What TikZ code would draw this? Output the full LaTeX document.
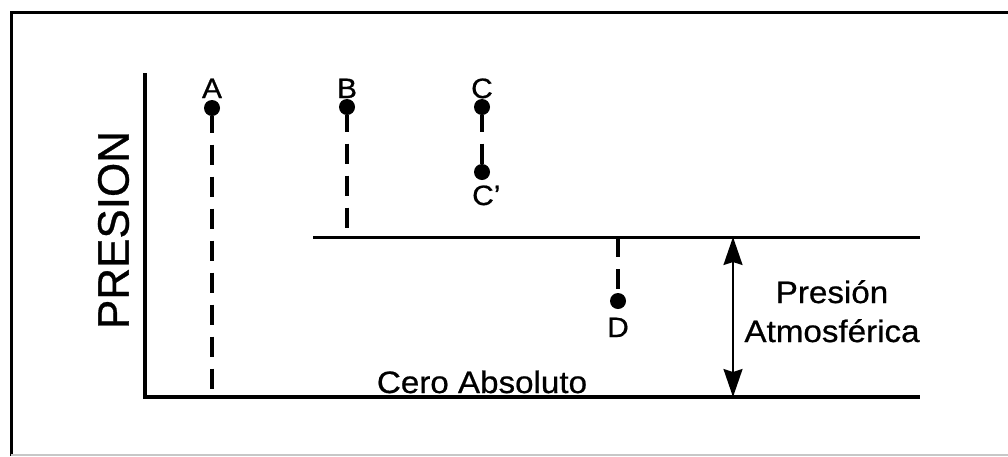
\documentclass[tikz,border=0pt]{standalone}
\usepackage{fontspec}
\setmainfont{Liberation Sans}[FakeStretch=1.07,FakeBold=0.7]
\newfontfamily\axisfont{Liberation Sans}[FakeBold=0.7]
\usetikzlibrary{arrows.meta}

\begin{document}
\begin{tikzpicture}[x=1pt,y=-1pt,
  frameline/.style={line width=3pt,line join=miter},
  faintline/.style={line width=1.2pt,draw=black!22},
  axisline/.style={line width=4.5pt,line join=miter},
  levelline/.style={line width=3pt},
  dropline/.style={line width=3.8pt,dash pattern=on 20pt off 12pt},
  pt/.style={circle,fill=black,inner sep=0pt,minimum size=16pt},
  ptlabel/.style={inner sep=0pt,font=\fontsize{28}{32}\selectfont},
  bigtext/.style={inner sep=0pt,font=\fontsize{31}{36}\selectfont},
  axistext/.style={inner sep=0pt,font=\axisfont\fontsize{44}{50}\selectfont},
  span/.style={line width=2pt,{Stealth[length=28pt,width=19pt,inset=3pt]}-{Stealth[length=28pt,width=19pt,inset=3pt]}}
]
\useasboundingbox (0,0) rectangle (1008,456);

% outer frame
\draw[frameline] (1008,12) -| (11,456);
\draw[faintline] (11,455) -- (1008,455);

% axes and reference levels
\coordinate (axTop) at (145,73);
\coordinate (zeroR) at (920,397);
\coordinate (atmL) at (313,237);
\coordinate (atmR) at (920,237);
\draw[axisline] (axTop) |- (zeroR);
\draw[levelline] (atmL) -- (atmR);

% pressure points
\node[pt] (A) at (212,108) {};
\node[pt] (B) at (347,107) {};
\node[pt] (C) at (482,107) {};
\node[pt] (Cp) at (482,172) {};
\node[pt] (D) at (618,301) {};

% drops to the reference levels
\draw[dropline,dash phase=3.5pt] (A.south) -- (A |- zeroR);
\draw[dropline,dash phase=3.5pt] (B.south) -- (B |- atmL);
\draw[dropline,dash phase=3.5pt] (C.south) -- (Cp.north);
\draw[dropline] (D |- atmL) -- (D.north);

% atmospheric pressure span
\coordinate (spanTop) at (733,237);
\coordinate (spanBot) at (733,397);
\draw[span] (spanTop) -- (spanBot);

% labels
\node[ptlabel,anchor=base] (lA) at (212,98) {A};
\node[ptlabel,anchor=base] (lB) at (347,98) {B};
\node[ptlabel,anchor=base] (lC) at (482,98) {C};
\node[ptlabel,anchor=base west] (lCp) at (472,205) {C’};
\node[ptlabel,anchor=base] (lD) at (618,337) {D};
\node[bigtext,anchor=base] (zero) at (482,393) {Cero Absoluto};
\node[bigtext,anchor=base] (patm1) at (832,303) {Presión};
\node[bigtext,anchor=base] (patm2) at (832,342) {Atmosférica};
\node[axistext,rotate=90] (ylab) at (113.5,230) {PRESION};
\end{tikzpicture}
\end{document}
